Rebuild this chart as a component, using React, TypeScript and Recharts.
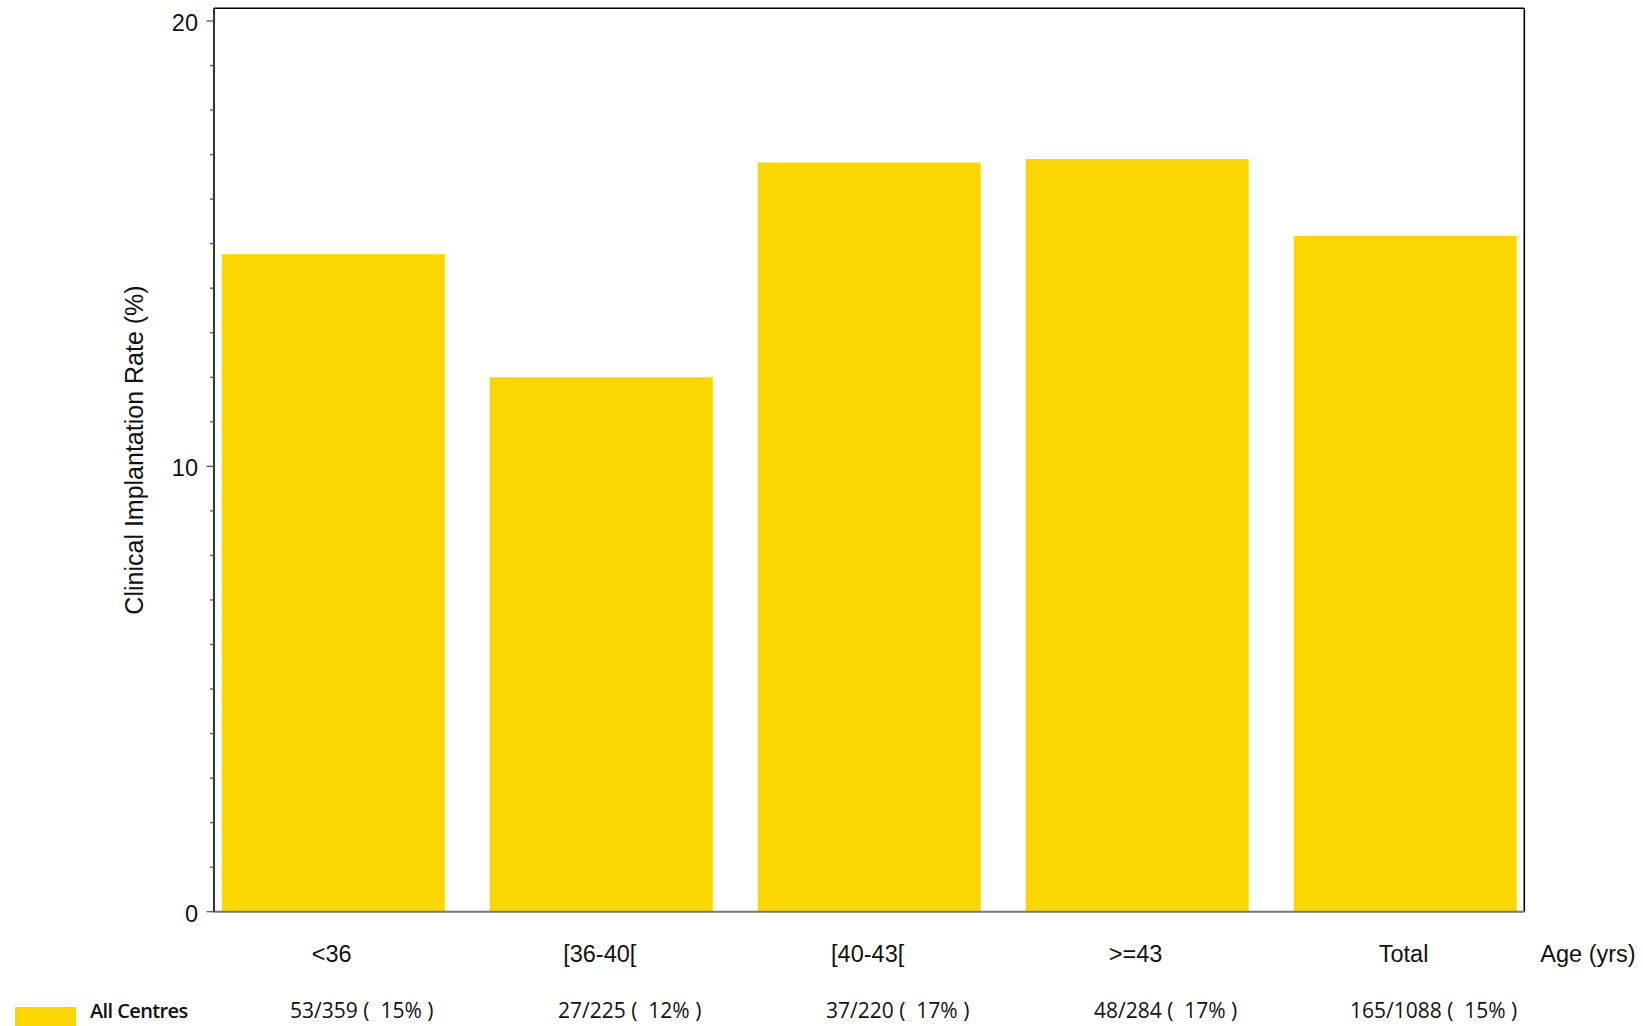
import { BarChart, Bar, XAxis, YAxis, Legend, ReferenceLine } from 'recharts';

// age bands as printed under the bars
const ageGroups = ['<36', '[36-40[', '[40-43[', '>=43', 'Total'];
const implanted = [53, 27, 37, 48, 165];
const transferred = [359, 225, 220, 284, 1088];
const ratePct = [14.76, 12.0, 16.82, 16.9, 15.17];
const pctLabels = ['15%', '12%', '17%', '17%', '15%'];
const yTicks = [0, 1, 2, 3, 4, 5, 6, 7, 8, 9, 10, 11, 12, 13, 14, 15, 16, 17, 18, 19, 20];

const X_DOMAIN = [-0.447, 4.443];
const Y_DOMAIN = [0, 20.285];

const chartData = ageGroups.map((group, i) => ({ idx: i, group, rate: ratePct[i] }));

const AXIS_FONT = '"Liberation Sans", Arial, sans-serif';
const ROW_FONT = '"Open Sans", "Noto Sans", sans-serif';
const BAR_COLOR = '#FCD600';

const YTick = (props: any) => {
  const { x, y, payload } = props;
  const major = payload.value % 10 === 0;
  return (
    <g>
      <line x1={x - (major ? 7.5 : 4)} x2={x} y1={y} y2={y} stroke="#555" strokeWidth={1.3} />
      {major && (
        <text x={x - 16} y={y + 10} textAnchor="end" fontSize={23.5} fontFamily={AXIS_FONT} fill="#111">
          {payload.value}
        </text>
      )}
    </g>
  );
};

const XTick = (props: any) => {
  const { x, y, payload } = props;
  const i = payload.value;
  return (
    <g>
      <text x={x - 2} y={y + 50} textAnchor="middle" fontSize={23.5} fontFamily={AXIS_FONT} fill="#111">
        {ageGroups[i]}
      </text>
      <text
        x={x + 28}
        y={y + 106}
        textAnchor="middle"
        fontSize={21}
        fontFamily={ROW_FONT}
        fill="#111"
        style={{ whiteSpace: 'pre' }}
      >
        {`${implanted[i]}/${transferred[i]} (  ${pctLabels[i]} )`}
      </text>
    </g>
  );
};

const LegendRow = () => (
  <div style={{ display: 'flex', alignItems: 'flex-start', height: 26 }}>
    <div style={{ width: 61, height: 20, marginTop: 7, background: BAR_COLOR }} />
    <span
      style={{
        marginLeft: 14,
        fontFamily: ROW_FONT,
        fontWeight: 600,
        fontSize: 20,
        letterSpacing: -0.6,
        color: '#111',
        lineHeight: '26px',
        marginTop: -2,
      }}
    >
      All Centres
    </span>
  </div>
);

export default function App() {
  return (
    <div style={{ width: 1643, height: 1026, position: 'relative', background: '#fff' }}>
      <style>{'body{margin:0}'}</style>
      <BarChart width={1643} height={1026} data={chartData} margin={{ top: 8.3, right: 118.7, bottom: 0, left: 0 }}>
        <XAxis
          dataKey="idx"
          type="number"
          domain={X_DOMAIN}
          allowDataOverflow
          ticks={[0, 1, 2, 3, 4]}
          interval={0}
          height={114.3}
          tickSize={0}
          tickMargin={0}
          tickLine={false}
          axisLine={{ stroke: '#777', strokeWidth: 2 }}
          tick={<XTick />}
          label={(p: any) => {
            const vb = p.viewBox;
            return (
              <text x={vb.x + vb.width + 16} y={vb.y + 50} fontSize={23.5} fontFamily={AXIS_FONT} fill="#111">
                Age (yrs)
              </text>
            );
          }}
        />
        <YAxis
          type="number"
          domain={Y_DOMAIN}
          allowDataOverflow
          ticks={yTicks}
          interval={0}
          width={214}
          tickSize={0}
          tickMargin={0}
          tickLine={false}
          axisLine={{ stroke: '#000', strokeWidth: 1.6 }}
          tick={<YTick />}
          label={(p: any) => {
            const vb = p.viewBox;
            const cx = 143;
            const cy = vb.y + vb.height / 2 - 10;
            return (
              <text
                x={cx}
                y={cy}
                textAnchor="middle"
                transform={`rotate(-90, ${cx}, ${cy})`}
                fontSize={25}
                fontFamily={AXIS_FONT}
                fill="#111"
              >
                Clinical Implantation Rate (%)
              </text>
            );
          }}
        />
        <Legend
          layout="horizontal"
          verticalAlign="middle"
          align="center"
          content={() => <LegendRow />}
          wrapperStyle={{ position: 'absolute', left: 15, top: 1000, width: 220, height: 26 }}
        />
        <Bar dataKey="rate" fill={BAR_COLOR} barSize={223} isAnimationActive={false} name="All Centres" />
        {/* plot frame: top and right edges */}
        <ReferenceLine y={Y_DOMAIN[1]} stroke="#000" strokeWidth={1.6} ifOverflow="visible" />
        <ReferenceLine x={X_DOMAIN[1]} stroke="#000" strokeWidth={1.6} ifOverflow="visible" />
      </BarChart>
    </div>
  );
}
